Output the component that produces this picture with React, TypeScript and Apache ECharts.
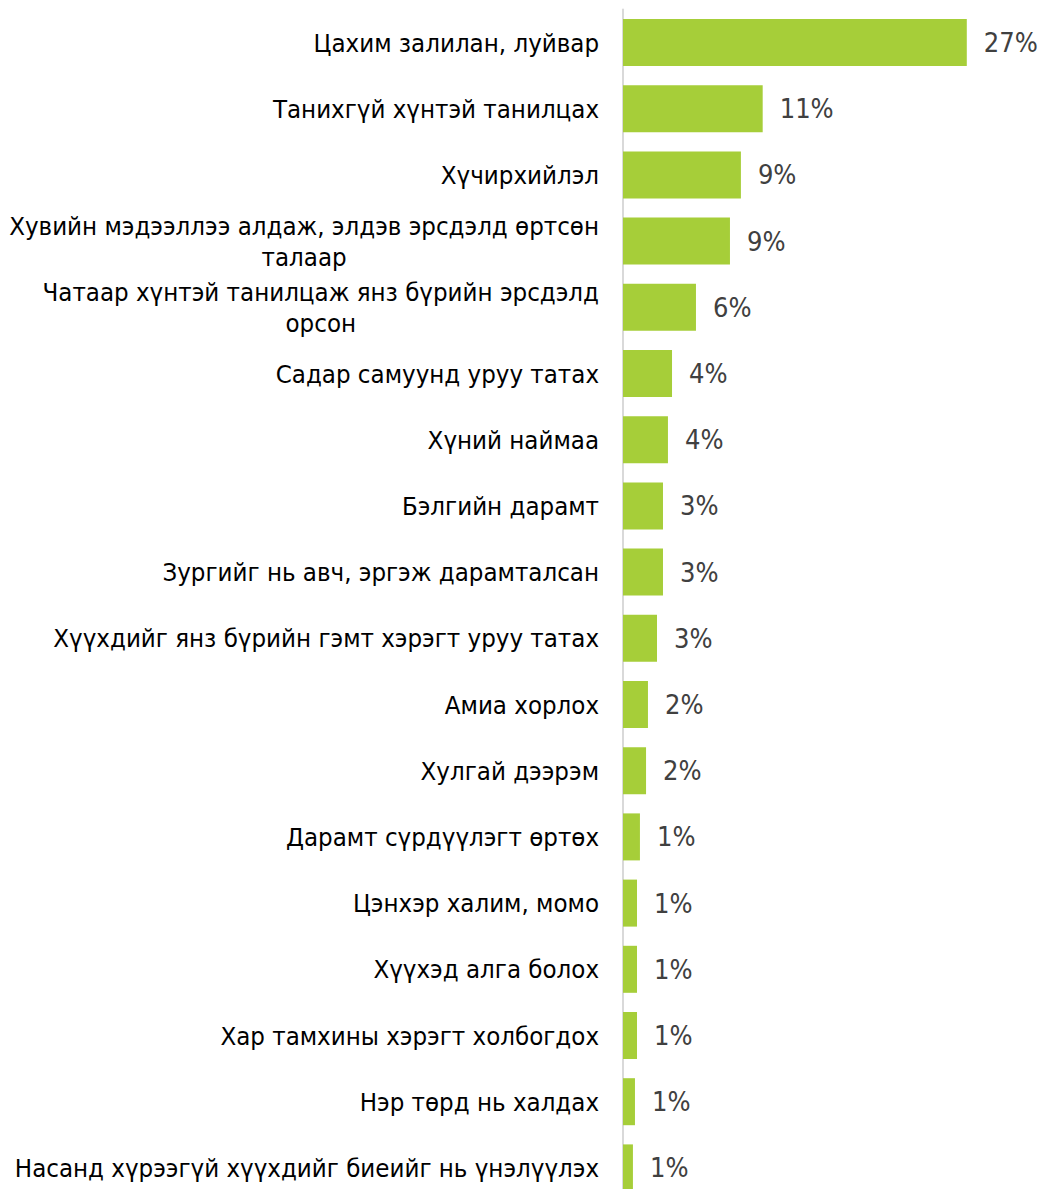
import React, { useEffect, useRef } from "react";
import * as echarts from "echarts";

const categories: string[] = [
  "Цахим залилан, луйвар",
  "Танихгүй хүнтэй танилцах",
  "Хүчирхийлэл",
  "Хувийн мэдээллээ алдаж, элдэв эрсдэлд өртсөн\nталаар",
  "Чатаар хүнтэй танилцаж янз бүрийн эрсдэлд\nорсон",
  "Садар самуунд уруу татах",
  "Хүний наймаа",
  "Бэлгийн дарамт",
  "Зургийг нь авч, эргэж дарамталсан",
  "Хүүхдийг янз бүрийн гэмт хэрэгт уруу татах",
  "Амиа хорлох",
  "Хулгай дээрэм",
  "Дарамт сүрдүүлэгт өртөх",
  "Цэнхэр халим, момо",
  "Хүүхэд алга болох",
  "Хар тамхины хэрэгт холбогдох",
  "Нэр төрд нь халдах",
  "Насанд хүрээгүй хүүхдийг биеийг нь үнэлүүлэх",
];

const values: number[] = [
  27.0, 10.97, 9.26, 8.4, 5.73, 3.85, 3.53, 3.14, 3.14, 2.67, 1.96, 1.81, 1.33,
  1.1, 1.1, 1.1, 0.94, 0.78,
];

const valueLabels: string[] = [
  "27%", "11%", "9%", "9%", "6%", "4%", "4%", "3%", "3%", "3%", "2%", "2%",
  "1%", "1%", "1%", "1%", "1%", "1%",
];

const FONT = "'DejaVu Sans Condensed', 'DejaVu Sans'";

export default function App() {
  const ref = useRef<HTMLDivElement>(null);
  useEffect(() => {
    document.body.style.margin = "0";
    if (!ref.current) return;
    const chart = echarts.init(ref.current, null, { renderer: "svg" });
    chart.setOption({
      animation: false,
      backgroundColor: "#ffffff",
      grid: {
        left: 623,
        top: 9.4,
        height: 1191.6,
        right: 36,
        containLabel: false,
        outerBoundsMode: "none",
      },
      xAxis: {
        type: "value",
        min: 0,
        max: 30,
        show: false,
        splitLine: { show: false },
      },
      yAxis: {
        type: "category",
        inverse: true,
        data: categories,
        axisLine: { show: true, lineStyle: { color: "#d9d9d9", width: 2 } },
        axisTick: { show: false },
        axisLabel: {
          margin: 24,
          align: "right",
          color: "#000000",
          fontFamily: FONT,
          fontSize: 25.6,
          lineHeight: 31,
          formatter: (v: string) =>
            v
              .split("\n")
              .map((s) => `{c|${s}}`)
              .join("\n"),
          rich: {
            c: {
              align: "center",
              fontFamily: FONT,
              fontSize: 25.6,
              lineHeight: 31,
              color: "#000000",
            },
          },
        },
      },
      series: [
        {
          type: "bar",
          data: values,
          barCategoryGap: "29%",
          itemStyle: { color: "#a6ce39" },
          label: {
            show: true,
            position: "right",
            distance: 17,
            color: "#404040",
            fontFamily: FONT,
            fontSize: 27,
            formatter: (p: any) => valueLabels[p.dataIndex],
          },
        },
      ],
    });
    return () => chart.dispose();
  }, []);
  return <div ref={ref} style={{ width: 1041, height: 1189 }} />;
}
